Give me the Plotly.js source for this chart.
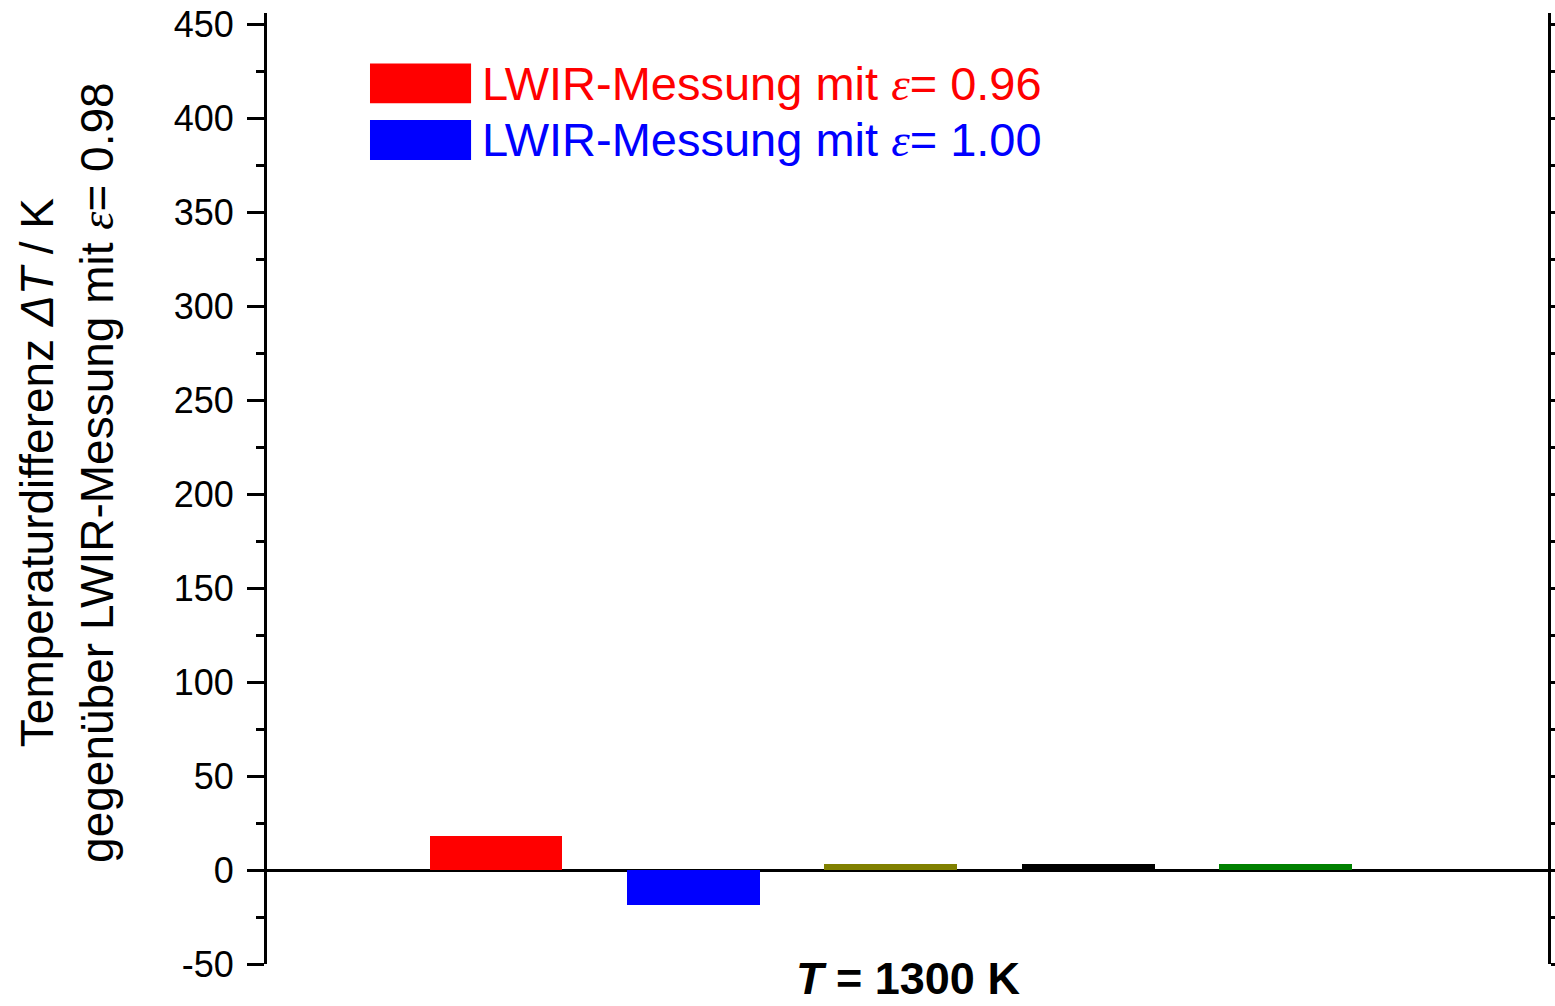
<!DOCTYPE html>
<html>
<head>
<meta charset="utf-8">
<script src="https://cdn.plot.ly/plotly-3.0.1.min.js"></script>
<style>html,body{margin:0;padding:0;background:#fff;}#chart{width:1555px;height:1006px;}</style>
</head>
<body>
<div id="chart"></div>
<script>
// Data
const seriesNames = ['LWIR-Messung mit ε = 0.96', 'LWIR-Messung mit ε = 1.00', 'Serie 3', 'Serie 4', 'Serie 5'];
const seriesPositions = [1, 2, 3, 4, 5];
const seriesValues = [18.0, -18.7, 3.3, 3.3, 3.3];
const seriesColors = ['#ff0000', '#0000ff', '#808000', '#000000', '#008000'];
const EPS = '<span style="font-family:Liberation Serif, Times New Roman, serif"><i>ε</i></span>';
const legendLabels = ['LWIR-Messung mit ' + EPS + '= 0.96', 'LWIR-Messung mit ' + EPS + '= 1.00'];
const yTickValues = [-50, 0, 50, 100, 150, 200, 250, 300, 350, 400, 450];
const yTickLabels = ['-50', '0', '50', '100', '150', '200', '250', '300', '350', '400', '450'];
const xTitle = '<b><i>T</i> = 1300 K</b>';
const yTitle = 'Temperaturdifferenz <i>ΔT</i> / K<br>gegenüber LWIR-Messung mit ' + EPS + '= 0.98';

const FONT = 'Liberation Sans, Arial, sans-serif';

const traces = seriesValues.map((v, i) => ({
  type: 'bar',
  name: seriesNames[i],
  x: [seriesPositions[i]],
  y: [v],
  width: 0.673,
  marker: {color: seriesColors[i], line: {width: 0}},
  showlegend: false,
  hoverinfo: 'name+y'
}));

// custom legend (large swatches like the original)
const shapes = [];
const annotations = [];
const legY = [0.926, 0.8665];
legendLabels.forEach((t, i) => {
  shapes.push({type: 'rect', xref: 'paper', yref: 'paper',
    x0: 0.0804, x1: 0.1593, y0: legY[i] - 0.021, y1: legY[i] + 0.021,
    fillcolor: seriesColors[i], line: {width: 0}});
  annotations.push({xref: 'paper', yref: 'paper', x: 0.1665, y: legY[i],
    xanchor: 'left', yanchor: 'middle', showarrow: false, text: t,
    font: {family: FONT, size: 47, color: seriesColors[i]}});
});

// axis titles placed as annotations for exact positioning
annotations.push({xref: 'paper', yref: 'paper', x: 0.5, y: -0.0431,
  xanchor: 'center', yanchor: 'bottom', showarrow: false, text: xTitle, borderpad: 0,
  font: {family: FONT, size: 45, color: '#000'}});
annotations.push({xref: 'paper', yref: 'paper', x: -0.1557, y: 0.517,
  xanchor: 'center', yanchor: 'middle', showarrow: false, text: yTitle, textangle: -90,
  font: {family: FONT, size: 46, color: '#000'}});

const layout = {
  width: 1555, height: 1006,
  margin: {l: 267, r: 7, t: 13, b: 42},
  paper_bgcolor: '#fff', plot_bgcolor: '#fff',
  font: {family: FONT, color: '#000'},
  bargap: 0,
  xaxis: {
    range: [-0.16, 6.33],
    showticklabels: false, ticks: '', showgrid: false, zeroline: false, showline: false
  },
  yaxis: {
    range: [-50, 456],
    tickvals: yTickValues,
    ticktext: yTickLabels,
    ticks: 'outside', ticklen: 17, tickwidth: 3, tickcolor: '#000',
    minor: {dtick: 25, ticks: 'outside', ticklen: 8, tickwidth: 3, tickcolor: '#000', showgrid: false},
    showline: true, linewidth: 3, linecolor: '#000', mirror: 'ticks',
    showgrid: false,
    zeroline: true, zerolinewidth: 3, zerolinecolor: '#000',
    tickfont: {family: FONT, size: 36, color: '#000'},
    ticklabelstandoff: 6
  },
  shapes: shapes,
  annotations: annotations
};

Plotly.newPlot('chart', traces, layout, {displayModeBar: false, staticPlot: true});
</script>
</body>
</html>
